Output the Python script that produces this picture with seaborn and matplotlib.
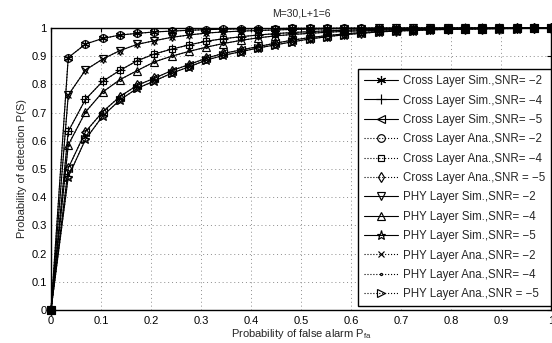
import matplotlib
matplotlib.use("Agg")
import matplotlib.pyplot as plt
import seaborn as sns
import numpy as np
import pandas as pd

sns.set_style("white")
plt.rcParams['font.family'] = ['Liberation Sans', 'DejaVu Sans']

# Probability of false alarm grid (30 points from 0 to 1)
pfa = np.linspace(0, 1, 30)

# Curves
cross_m2 = [0, 0.895, 0.943, 0.963, 0.975, 0.981, 0.986, 0.989, 0.992, 0.994,
            0.996, 0.997, 0.998, 0.998, 0.999, 0.999, 0.999, 1.0, 1.0, 1.0,
            1.0, 1.0, 1.0, 1.0, 1.0, 1.0, 1.0, 1.0, 1.0, 1.0]
phy_m2 = [0, 0.762, 0.851, 0.890, 0.920, 0.942, 0.955, 0.967, 0.975, 0.982,
          0.986, 0.989, 0.991, 0.993, 0.995, 0.996, 0.997, 0.998, 0.998, 0.999,
          0.999, 1.0, 1.0, 1.0, 1.0, 1.0, 1.0, 1.0, 1.0, 1.0]
cross_m4 = [0, 0.633, 0.747, 0.811, 0.850, 0.884, 0.908, 0.925, 0.940, 0.953,
            0.962, 0.969, 0.975, 0.980, 0.984, 0.987, 0.990, 0.992, 0.994, 0.995,
            0.996, 0.997, 0.998, 0.998, 0.999, 0.999, 0.999, 1.0, 1.0, 1.0]
phy_m4 = [0, 0.585, 0.702, 0.773, 0.817, 0.849, 0.880, 0.900, 0.917, 0.932,
          0.945, 0.956, 0.965, 0.972, 0.977, 0.981, 0.985, 0.988, 0.990, 0.992,
          0.994, 0.995, 0.996, 0.997, 0.998, 0.998, 0.999, 0.999, 1.0, 1.0]
cross_m5 = [0, 0.503, 0.632, 0.703, 0.757, 0.797, 0.822, 0.849, 0.870, 0.893,
            0.910, 0.922, 0.934, 0.946, 0.957, 0.966, 0.973, 0.979, 0.984, 0.988,
            0.991, 0.993, 0.995, 0.996, 0.997, 0.998, 0.998, 0.999, 0.999, 1.0]
phy_m5 = [0, 0.472, 0.605, 0.688, 0.745, 0.786, 0.812, 0.840, 0.862, 0.886,
          0.903, 0.916, 0.929, 0.940, 0.951, 0.961, 0.969, 0.976, 0.981, 0.986,
          0.989, 0.991, 0.993, 0.995, 0.996, 0.997, 0.998, 0.998, 0.999, 0.999]

labels = [
    "Cross Layer Sim.,SNR= \u22122",
    "Cross Layer Sim.,SNR= \u22124",
    "Cross Layer Sim.,SNR= \u22125",
    "Cross Layer Ana.,SNR= \u22122",
    "Cross Layer Ana.,SNR= \u22124",
    "Cross Layer Ana.,SNR = \u22125",
    "PHY Layer Sim.,SNR= \u22122",
    "PHY Layer Sim.,SNR= \u22124",
    "PHY Layer Sim.,SNR= \u22125",
    "PHY Layer Ana.,SNR= \u22122",
    "PHY Layer Ana.,SNR= \u22124",
    "PHY Layer Ana.,SNR = \u22125",
]
series = [cross_m2, cross_m4, cross_m5, cross_m2, cross_m4, cross_m5,
          phy_m2, phy_m4, phy_m5, phy_m2, phy_m4, phy_m5]

asterisk = (6, 2, 0)
markers = [asterisk, '+', '<', 'o', 's', 'd', 'v', '^', '*', 'x', '.', '>']
sizes = [6.5, 6.5, 5.5, 5.5, 5, 5.5, 5.5, 5.5, 6.5, 5, 3, 5.5]
styles = ['-', '-', '-', ':', ':', ':', '-', '-', '-', ':', ':', ':']

fig = plt.figure(figsize=(5.52, 3.43), dpi=100)
ax = fig.add_axes([51/552, 33/343, 500/552, 282/343])

for lab, vals, mk, ms, ls in zip(labels, series, markers, sizes, styles):
    df = pd.DataFrame({"pfa": pfa, "pd": vals})
    sns.lineplot(data=df, x="pfa", y="pd", ax=ax, color='k', linestyle=ls,
                 linewidth=0.8, marker=mk, markersize=ms,
                 markerfacecolor='none', markeredgecolor='k',
                 markeredgewidth=0.85, label=lab, clip_on=False)

ax.set_xlim(0, 1)
ax.set_ylim(0, 1)
ticks = np.round(np.arange(0, 1.01, 0.1), 1)
ticklabels = ["0", "0.1", "0.2", "0.3", "0.4", "0.5", "0.6", "0.7", "0.8", "0.9", "1"]
ax.set_xticks(ticks)
ax.set_xticklabels(ticklabels)
ax.set_yticks(ticks)
ax.set_yticklabels(ticklabels)
ax.tick_params(direction='in', length=3, width=0.8, top=True, right=True,
               labelsize=8, colors='k')
ax.tick_params(axis='x', pad=4)
ax.tick_params(axis='y', pad=3)
for sp in ax.spines.values():
    sp.set_color('k')
    sp.set_linewidth(1.0)
ax.grid(True, color='0.55', linestyle=(0, (1, 3)), linewidth=0.7)

ax.set_title("M=30,L+1=6", fontsize=7.5, pad=8)
ax.set_xlabel("Probability of false alarm P$_{\\mathregular{fa}}$", fontsize=8, labelpad=1)
ax.set_ylabel("Probability of detection P(S)", fontsize=8, labelpad=3)

leg = ax.legend(loc='lower right', bbox_to_anchor=(1.0, 0.014), borderaxespad=0,
                fontsize=8.3, handlelength=3.0, labelspacing=0.64, fancybox=False,
                framealpha=1, edgecolor='k', borderpad=0.5, handletextpad=0.4)
leg.get_frame().set_linewidth(1.0)

fig.savefig("out.png", dpi=100)
